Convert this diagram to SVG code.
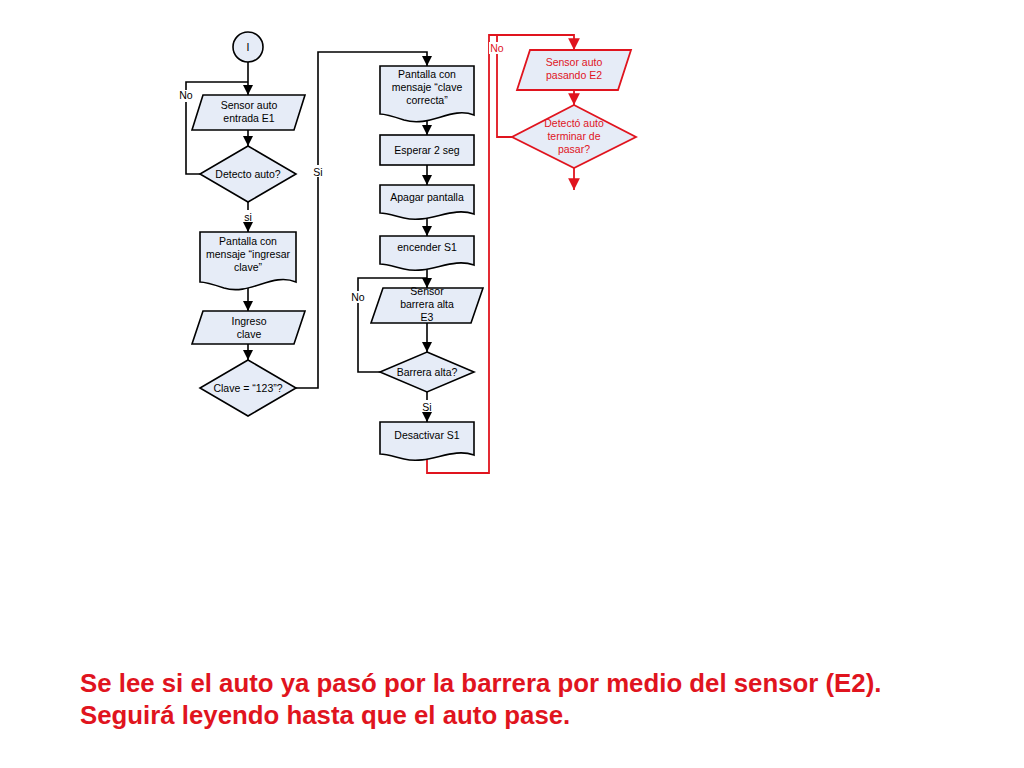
<svg xmlns="http://www.w3.org/2000/svg" width="1024" height="768" viewBox="0 0 1024 768">
<style>
.n{fill:#e6ecf7;stroke:#000;stroke-width:1.6}
.r{fill:#e6ecf7;stroke:#e0141e;stroke-width:1.8}
text{font-family:"Liberation Sans",Arial,sans-serif;font-size:10.5px;text-anchor:middle}
.l{fill:none;stroke:#000;stroke-width:1.6}
.lr{fill:none;stroke:#e0141e;stroke-width:1.8}
.rt{fill:#e0141e}
</style>
<defs>
<marker id="a" viewBox="0 0 10 10" refX="10" refY="5" markerWidth="6.5" markerHeight="6.5" orient="auto"><path d="M0,0L10,5L0,10z" fill="#000"/></marker>
<marker id="ar" viewBox="0 0 10 10" refX="10" refY="5" markerWidth="6.5" markerHeight="6.5" orient="auto"><path d="M0,0L10,5L0,10z" fill="#e0141e"/></marker>
</defs>
<g id="connectors">
<path class="l" d="M248,62V95" marker-end="url(#a)"/>
<path class="l" d="M200,174H186V82H248"/>
<path class="l" d="M248,130V146" marker-end="url(#a)"/>
<path class="l" d="M248,202V232" marker-end="url(#a)"/>
<path class="l" d="M248,286V311" marker-end="url(#a)"/>
<path class="l" d="M248,344V360" marker-end="url(#a)"/>
<path class="l" d="M296,388H318V52H427V66" marker-end="url(#a)"/>
<path class="l" d="M427,118V135" marker-end="url(#a)"/>
<path class="l" d="M427,165V185" marker-end="url(#a)"/>
<path class="l" d="M427,217V236" marker-end="url(#a)"/>
<path class="l" d="M427,268V288" marker-end="url(#a)"/>
<path class="l" d="M380,372H358V278H427"/>
<path class="l" d="M427,323V352" marker-end="url(#a)"/>
<path class="l" d="M427,392V422" marker-end="url(#a)"/>
<path class="lr" d="M427,456V473H489V35H574V50" marker-end="url(#ar)"/>
<path class="lr" d="M512,137H497V35"/>
<path class="lr" d="M574,90V105" marker-end="url(#ar)"/>
<path class="lr" d="M574,168V190" marker-end="url(#ar)"/>
<rect x="178" y="90" width="16" height="12" fill="#fff"/><text x="186" y="99">No</text>
<rect x="241" y="210" width="14" height="12" fill="#fff"/><text x="248" y="221">si</text>
<rect x="312" y="165" width="12" height="12" fill="#fff"/><text x="318" y="176">Si</text>
<rect x="350" y="291" width="16" height="12" fill="#fff"/><text x="358" y="301">No</text>
<rect x="420" y="400" width="14" height="12" fill="#fff"/><text x="427" y="411">Si</text>
<rect x="489" y="42" width="16" height="12" fill="#fff"/><text class="rt" x="497" y="52">No</text>
</g>
<g id="start"><circle class="n" cx="248" cy="47" r="15"/><text x="248" y="51">I</text></g>
<g id="e1"><path class="n" d="M203,95H305L294,130H192Z"/><text x="249" y="109">Sensor auto</text><text x="249" y="122">entrada E1</text></g>
<g id="d1"><path class="n" d="M248,146L296,174L248,202L200,174Z"/><text x="248" y="178">Detecto auto?</text></g>
<g id="doc1"><path class="n" d="M200,232H296V282C272,272 250,296 224,288C212,284 206,282 200,282Z"/><text x="248" y="245">Pantalla con</text><text x="248" y="258">mensaje “ingresar</text><text x="248" y="271">clave”</text></g>
<g id="ing"><path class="n" d="M203,311H305L294,344H192Z"/><text x="249" y="325">Ingreso</text><text x="249" y="338">clave</text></g>
<g id="d2"><path class="n" d="M248,360L296,388L248,416L200,388Z"/><text x="248" y="392">Clave = “123”?</text></g>
<g id="doc2"><path class="n" d="M380,66H474V115C451,106 430,128 404,120C392,116 386,114 380,114Z"/><text x="427" y="78">Pantalla con</text><text x="427" y="91">mensaje “clave</text><text x="427" y="104">correcta”</text></g>
<g id="esp"><rect class="n" x="380" y="135" width="94" height="30"/><text x="427" y="154">Esperar 2 seg</text></g>
<g id="apa"><path class="n" d="M380,185H474V214C451,206 430,224 404,218C392,215 386,213 380,213Z"/><text x="427" y="201">Apagar pantalla</text></g>
<g id="enc"><path class="n" d="M380,236H474V265C451,257 430,275 404,269C392,266 386,264 380,264Z"/><text x="427" y="251">encender S1</text></g>
<g id="e3"><path class="n" d="M383,288H483L471,323H371Z"/><text x="427" y="295">Sensor</text><text x="427" y="308">barrera alta</text><text x="427" y="321">E3</text></g>
<g id="d3"><path class="n" d="M427,352L474,372L427,392L380,372Z"/><text x="427" y="376">Barrera alta?</text></g>
<g id="des"><path class="n" d="M380,422H474V455C451,447 430,465 404,459C392,456 386,454 380,454Z"/><text x="427" y="439">Desactivar S1</text></g>
<g id="e2"><path class="r" d="M530,50H631L618,90H517Z"/><text class="rt" x="574" y="66">Sensor auto</text><text class="rt" x="574" y="79">pasando E2</text></g>
<g id="d4"><path class="r" d="M574,105L636,137L574,168L512,137Z"/><text class="rt" x="574" y="127">Detectó auto</text><text class="rt" x="574" y="140">terminar de</text><text class="rt" x="574" y="153">pasar?</text></g>
<g id="caption" style="font-weight:bold;fill:#e0141e">
<text x="80" y="692" style="text-anchor:start;font-size:25.8px">Se lee si el auto ya pasó por la barrera por medio del sensor (E2).</text>
<text x="80" y="724" style="text-anchor:start;font-size:25.8px">Seguirá leyendo hasta que el auto pase.</text>
</g>
</svg>
